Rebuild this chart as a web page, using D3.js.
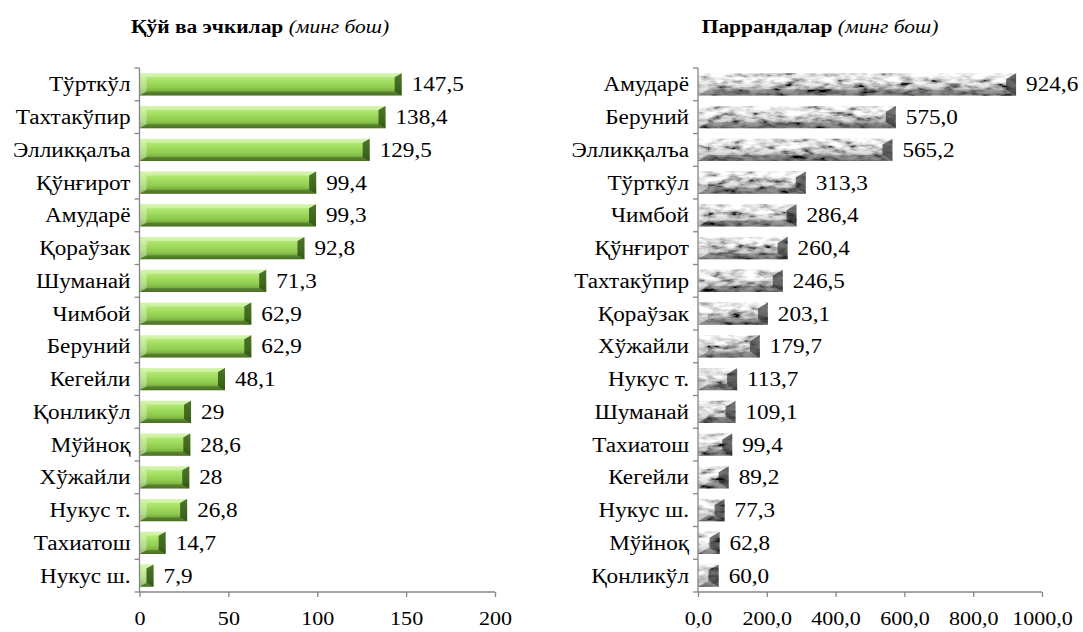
<!DOCTYPE html>
<html>
<head>
<meta charset="utf-8">
<script src="https://cdn.jsdelivr.net/npm/d3@7"></script>
<style>
  body { margin: 0; background: #fff; }
</style>
</head>
<body>
<div id="chart"></div>
<script>
// Qo'y va echkilar (ming bosh)
const sheepRegions = ['Тўрткўл', 'Тахтакўпир', 'Элликқалъа', 'Қўнғирот', 'Амударё', 'Қораўзак', 'Шуманай', 'Чимбой',
  'Беруний', 'Кегейли', 'Қонликўл', 'Мўйноқ', 'Хўжайли', 'Нукус т.', 'Тахиатош', 'Нукус ш.'];
const sheepValues = [147.5, 138.4, 129.5, 99.4, 99.3, 92.8, 71.3, 62.9, 62.9, 48.1, 29, 28.6, 28, 26.8, 14.7, 7.9];
const sheepTicks = [0, 50, 100, 150, 200];

// Parrandalar (ming bosh)
const poultryRegions = ['Амударё', 'Беруний', 'Элликқалъа', 'Тўрткўл', 'Чимбой', 'Қўнғирот', 'Тахтакўпир', 'Қораўзак',
  'Хўжайли', 'Нукус т.', 'Шуманай', 'Тахиатош', 'Кегейли', 'Нукус ш.', 'Мўйноқ', 'Қонликўл'];
const poultryValues = [924.6, 575.0, 565.2, 313.3, 286.4, 260.4, 246.5, 203.1, 179.7, 113.7, 109.1, 99.4, 89.2, 77.3, 62.8, 60.0];
const poultryTicks = [0, 200, 400, 600, 800, 1000];

const width = 1083, height = 632;
const axisColor = '#868686';
const serif = 'Liberation Serif, Times New Roman, serif';
// the source picture is a bit wider than tall, so text is stretched horizontally
const stretch = 1.16;

const svg = d3.select('#chart').append('svg')
  .attr('width', width)
  .attr('height', height);

const defs = svg.append('defs');

// green bar face
const greenGrad = defs.append('linearGradient')
  .attr('id', 'greenGrad')
  .attr('x1', 0).attr('y1', 0).attr('x2', 0).attr('y2', 1);
[[0, '#c6f28e'], [0.3, '#a8e266'], [0.65, '#8fcb4f'], [1, '#5f8f30']].forEach(([o, c]) => {
  greenGrad.append('stop').attr('offset', o).attr('stop-color', c);
});

// shading over the grey marble
const greyGrad = defs.append('linearGradient')
  .attr('id', 'greyGrad')
  .attr('x1', 0).attr('y1', 0).attr('x2', 0).attr('y2', 1);
[[0, 'rgba(255,255,255,0.3)'], [0.4, 'rgba(255,255,255,0.2)'], [0.6, 'rgba(0,0,0,0.12)'], [1, 'rgba(0,0,0,0.35)']].forEach(([o, c]) => {
  greyGrad.append('stop').attr('offset', o).attr('stop-color', c);
});

const marble = defs.append('filter')
  .attr('id', 'marble')
  .attr('x', 0).attr('y', 0).attr('width', 1).attr('height', 1);
marble.append('feTurbulence')
  .attr('type', 'fractalNoise')
  .attr('baseFrequency', '0.07 0.18')
  .attr('numOctaves', 3)
  .attr('seed', 7)
  .attr('result', 'noise');
marble.append('feColorMatrix')
  .attr('in', 'noise')
  .attr('type', 'matrix')
  .attr('values', '2.4 0 0 0 -0.55  2.4 0 0 0 -0.55  2.4 0 0 0 -0.55  0 0 0 0 1')
  .attr('result', 'grey');
marble.append('feComposite')
  .attr('in', 'grey')
  .attr('in2', 'SourceGraphic')
  .attr('operator', 'in');

const drawChart = ({ regions, values, ticks, xRange, titleX, title, kind, fmt, tickFmt }) => {
  const top = 68, bottom = 592;
  const x = d3.scaleLinear().domain([ticks[0], ticks[ticks.length - 1]]).range(xRange);
  const y = d3.scaleBand().domain(regions).range([top, bottom]).paddingInner(0.32).paddingOuter(0.16);
  const step = y.step();

  const g = svg.append('g')
    .attr('font-family', serif);

  // title: bold part + italic unit
  g.append('text')
    .attr('transform', `translate(${ titleX },33) scale(${ stretch },1)`)
    .attr('text-anchor', 'middle')
    .attr('font-size', 18.5)
    .call(t => {
      t.append('tspan').attr('font-weight', 'bold').text(title[0] + ' ');
      t.append('tspan').attr('font-style', 'italic').text(title[1]);
    });

  // bars
  const bars = g.selectAll('.bar')
    .data(values)
    .enter().append('g')
    .attr('class', 'bar');

  bars.each(function(d, i) {
    const b = d3.select(this);
    const x0 = x(0), x1 = x(d);
    const y0 = y(regions[i]), y1 = y0 + y.bandwidth();
    const bx = Math.min(kind === 'green' ? 7 : 10, (x1 - x0) / 2);
    const by = Math.min(kind === 'green' ? 4 : 6, (y1 - y0) / 2);

    if (kind === 'green') {
      b.append('rect')
        .attr('x', x0).attr('y', y0)
        .attr('width', x1 - x0).attr('height', y1 - y0)
        .attr('fill', 'url(#greenGrad)');
    } else {
      b.append('rect')
        .attr('x', x0).attr('y', y0)
        .attr('width', x1 - x0).attr('height', y1 - y0)
        .attr('fill', '#000')
        .attr('filter', 'url(#marble)');
      b.append('rect')
        .attr('x', x0).attr('y', y0)
        .attr('width', x1 - x0).attr('height', y1 - y0)
        .attr('fill', 'url(#greyGrad)');
    }

    const poly = (pts, fill) => b.append('polygon')
      .attr('points', pts.map(p => p.join(',')).join(' '))
      .attr('fill', fill);

    const dark = kind === 'green' ? 'rgba(30,60,10,0.7)' : 'rgba(20,20,20,0.6)';
    poly([[x0, y0], [x1, y0], [x1 - bx, y0 + by], [x0 + bx, y0 + by]], 'rgba(255,255,255,0.3)');
    poly([[x0, y1], [x1, y1], [x1 - bx, y1 - by], [x0 + bx, y1 - by]], 'rgba(0,0,0,0.22)');
    poly([[x0, y0], [x0 + bx, y0 + by], [x0 + bx, y1 - by], [x0, y1]], 'rgba(255,255,255,0.35)');
    poly([[x1, y0], [x1 - bx, y0 + by], [x1 - bx, y1 - by], [x1, y1]], dark);
  });

  // value labels
  g.selectAll('.value')
    .data(values)
    .enter().append('text')
    .attr('class', 'value')
    .attr('transform', (d, i) => `translate(${ x(d) + 10 },${ y(regions[i]) + y.bandwidth() / 2 }) scale(${ stretch },1)`)
    .attr('dy', '0.35em')
    .attr('font-size', 20)
    .attr('fill', '#000')
    .text(fmt);

  // y axis with boundary ticks
  const yAxis = g.append('g').attr('stroke', axisColor).attr('stroke-width', 1.3);
  yAxis.append('line')
    .attr('x1', x(0)).attr('x2', x(0))
    .attr('y1', top).attr('y2', bottom);
  yAxis.selectAll('.ytick')
    .data(d3.range(regions.length + 1))
    .enter().append('line')
    .attr('x1', x(0) - 5).attr('x2', x(0))
    .attr('y1', k => top + k * step).attr('y2', k => top + k * step);

  g.selectAll('.cat')
    .data(regions)
    .enter().append('text')
    .attr('class', 'cat')
    .attr('transform', d => `translate(${ x(0) - 9 },${ y(d) + y.bandwidth() / 2 }) scale(${ stretch },1)`)
    .attr('dy', '0.35em')
    .attr('text-anchor', 'end')
    .attr('font-size', 20)
    .text(d => d);

  // x axis
  const xAxis = g.append('g')
    .attr('transform', `translate(0,${ bottom })`)
    .call(d3.axisBottom(x).tickValues(ticks).tickSize(5).tickPadding(15).tickFormat(tickFmt));
  xAxis.attr('font-family', serif);
  xAxis.selectAll('.domain').attr('stroke', axisColor).attr('stroke-width', 1.3)
    .attr('d', `M${ xRange[0] },0H${ xRange[1] }`);
  xAxis.selectAll('.tick line').attr('stroke', axisColor).attr('stroke-width', 1.3);
  xAxis.selectAll('.tick text')
    .attr('font-size', 19)
    .attr('fill', '#000')
    .attr('transform', `scale(${ stretch },1)`)
    .attr('x', d => 0);
};

const commaNum = v => String(v).replace('.', ',');
const commaFixed = v => v.toFixed(1).replace('.', ',');

drawChart({
  regions: sheepRegions,
  values: sheepValues,
  ticks: sheepTicks,
  xRange: [139.5, 495],
  titleX: 260,
  title: ['Қўй ва эчкилар', '(минг бош)'],
  kind: 'green',
  fmt: commaNum,
  tickFmt: d => d
});

drawChart({
  regions: poultryRegions,
  values: poultryValues,
  ticks: poultryTicks,
  xRange: [698, 1042],
  titleX: 820,
  title: ['Паррандалар', '(минг бош)'],
  kind: 'grey',
  fmt: commaFixed,
  tickFmt: commaFixed
});
</script>
</body>
</html>
